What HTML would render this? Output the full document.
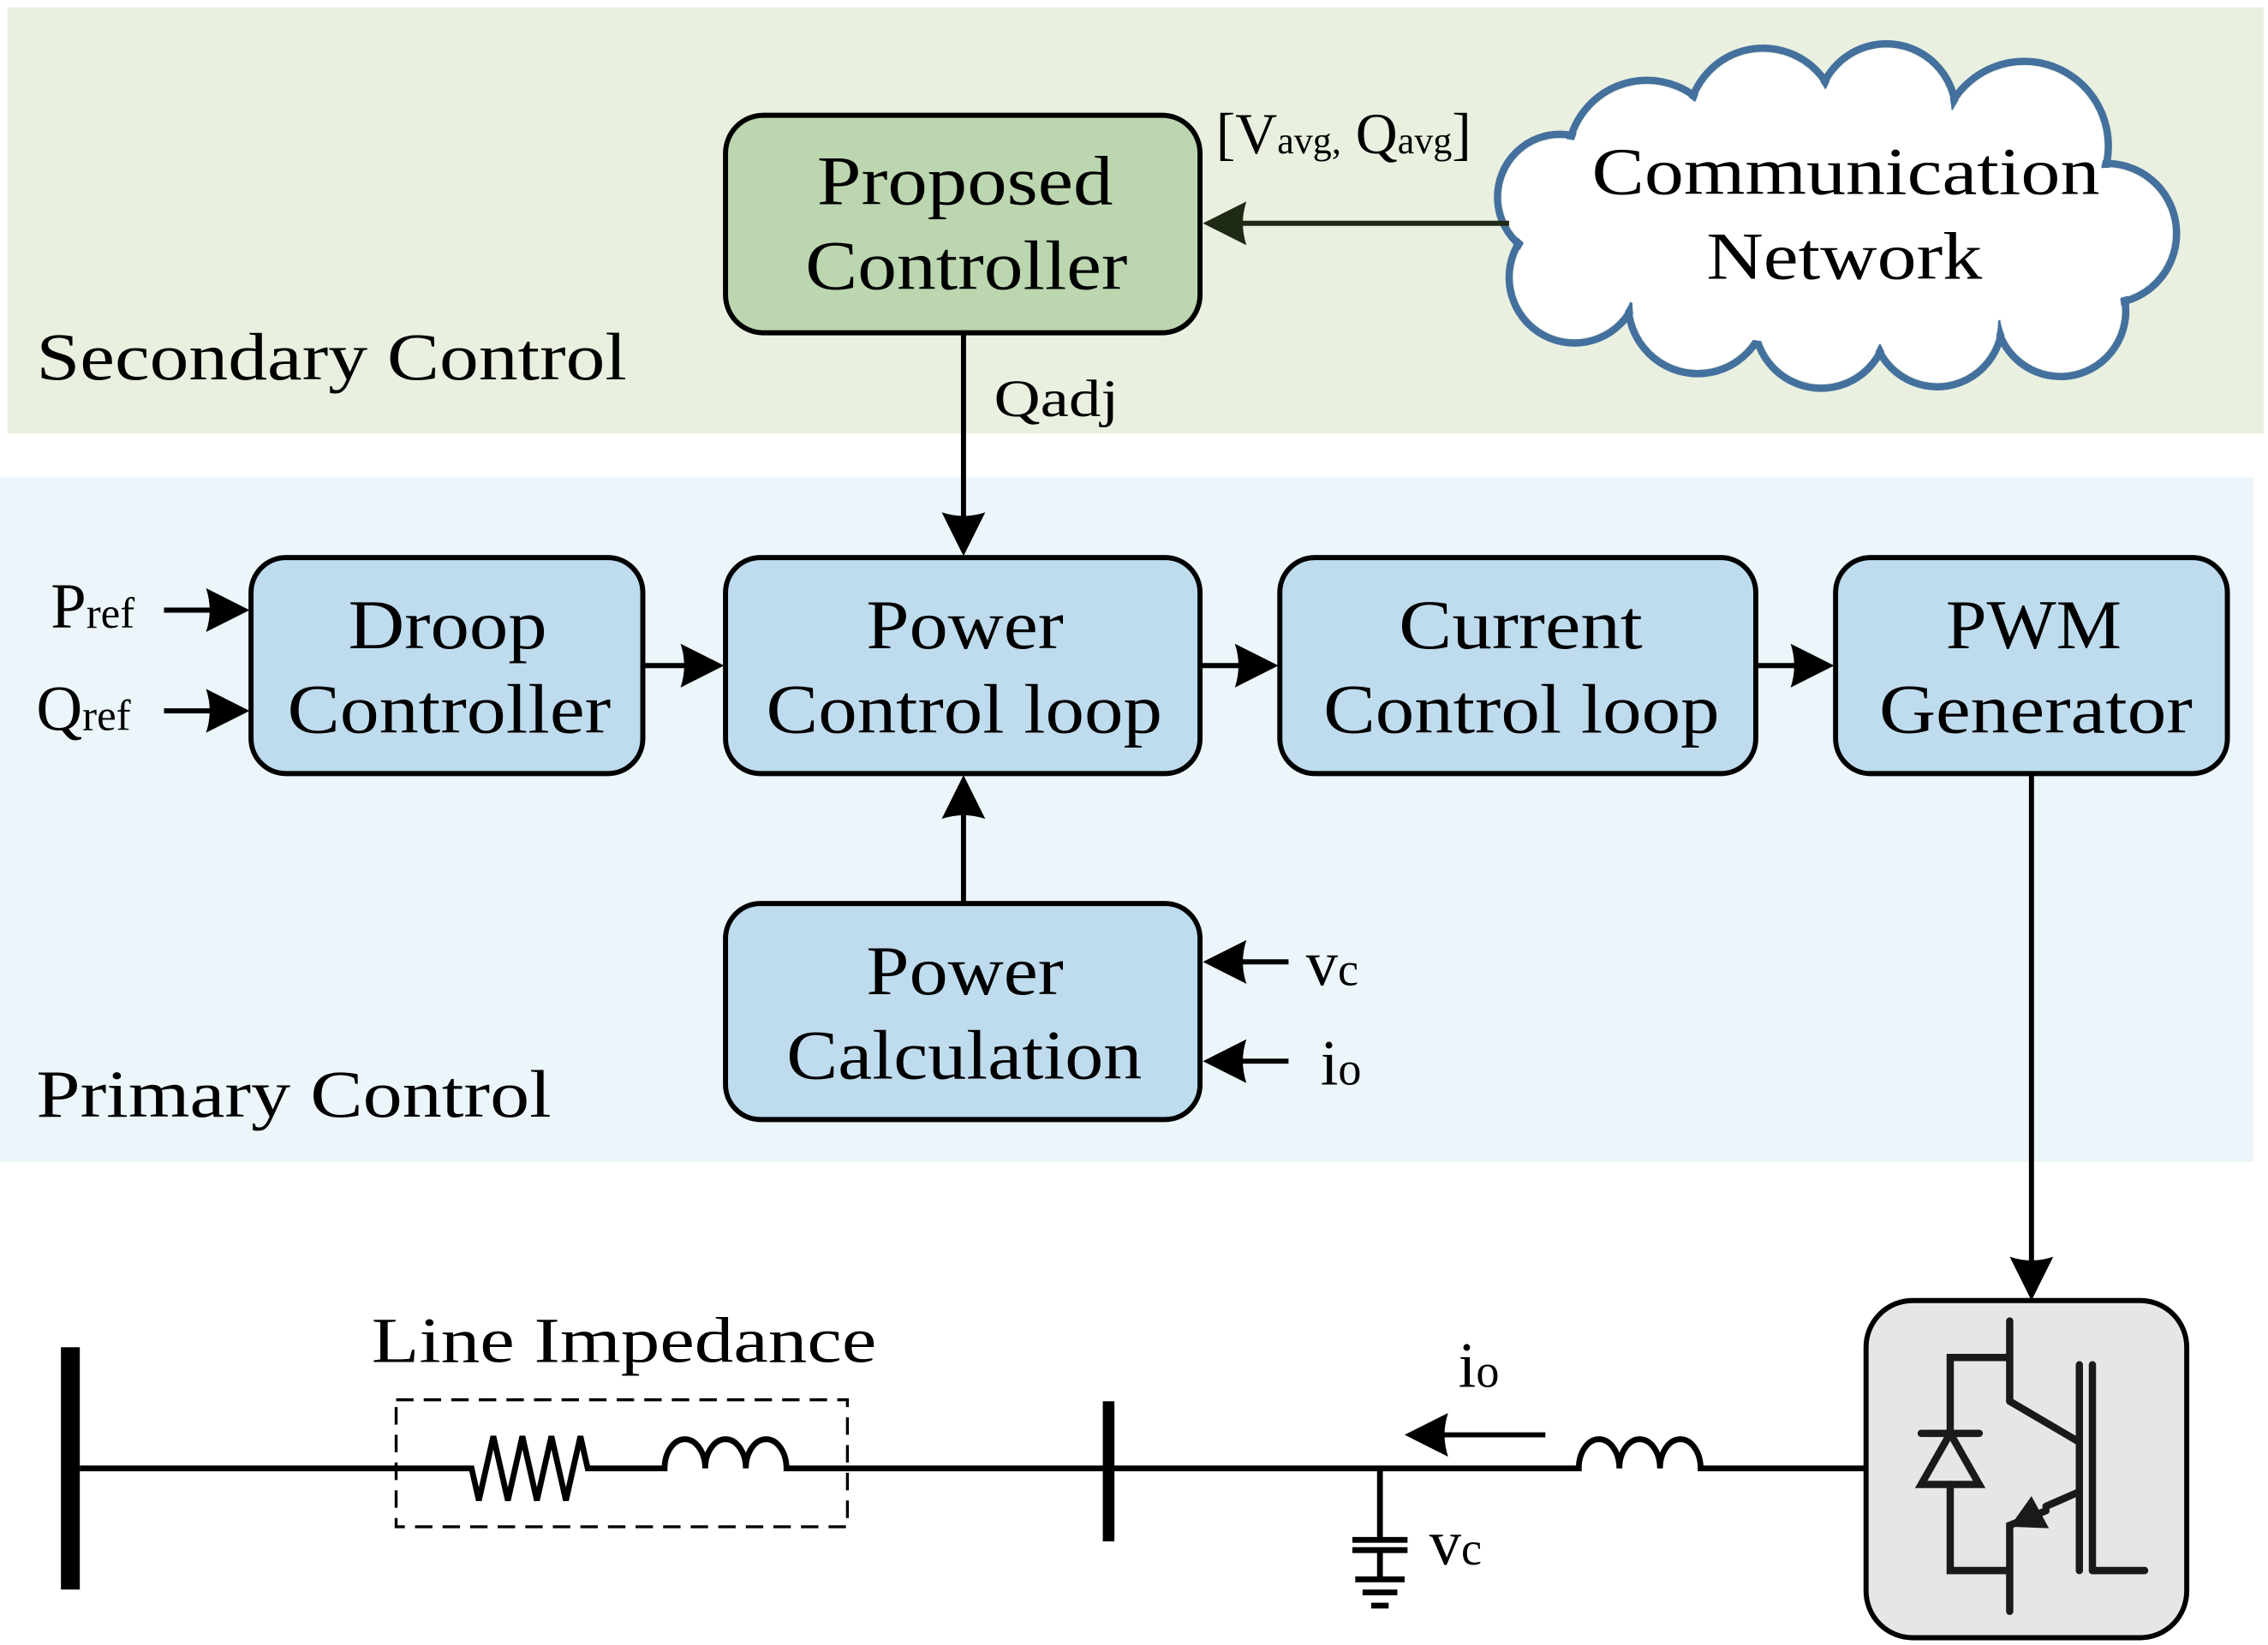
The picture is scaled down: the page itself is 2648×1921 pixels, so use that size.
<!DOCTYPE html>
<html><head><meta charset="utf-8"><style>html,body{margin:0;padding:0;background:#fff}svg{display:block}text{font-family:"Liberation Serif",serif;fill:#000}</style></head>
<body>
<svg width="2648" height="1921" viewBox="0 0 1563 1127" preserveAspectRatio="none" xmlns="http://www.w3.org/2000/svg">
<rect x="5" y="5" width="1555" height="292" fill="#e9f0df"/>
<rect x="0" y="327" width="1553" height="469" fill="#ecf5f9"/>

<!-- cloud -->
<g fill="none" stroke="#44709e" stroke-width="5">
<circle cx="1135" cy="110" r="55"/><circle cx="1215" cy="85" r="52"/><circle cx="1300" cy="78" r="48"/><circle cx="1395" cy="100" r="58"/><circle cx="1452" cy="160" r="48"/><circle cx="1420" cy="213" r="45"/><circle cx="1335" cy="220" r="45"/><circle cx="1255" cy="220" r="46"/><circle cx="1170" cy="208" r="48"/><circle cx="1085" cy="190" r="45"/><circle cx="1075" cy="135" r="43"/>
</g>
<g fill="#fff">
<circle cx="1135" cy="110" r="52"/><circle cx="1215" cy="85" r="49"/><circle cx="1300" cy="78" r="45"/><circle cx="1395" cy="100" r="55"/><circle cx="1452" cy="160" r="45"/><circle cx="1420" cy="213" r="42"/><circle cx="1335" cy="220" r="42"/><circle cx="1255" cy="220" r="43"/><circle cx="1170" cy="208" r="45"/><circle cx="1085" cy="190" r="42"/><circle cx="1075" cy="135" r="40"/><ellipse cx="1265" cy="152" rx="185" ry="85"/>
</g>
<text x="1097" y="133" font-size="46" textLength="350" lengthAdjust="spacingAndGlyphs">Communication</text>
<text x="1176" y="191" font-size="46" textLength="190" lengthAdjust="spacingAndGlyphs">Network</text>

<!-- boxes -->
<g stroke="#000" stroke-width="3.5">
<rect x="500" y="79" width="327" height="149" rx="26" fill="#bcd6b0"/>
<rect x="173" y="382" width="270" height="148" rx="24" fill="#bfdcee"/>
<rect x="500" y="382" width="327" height="148" rx="24" fill="#bfdcee"/>
<rect x="882" y="382" width="328" height="148" rx="24" fill="#bfdcee"/>
<rect x="1265" y="382" width="270" height="148" rx="24" fill="#bfdcee"/>
<rect x="500" y="619" width="327" height="148" rx="24" fill="#bfdcee"/>
<rect x="1286" y="891" width="221" height="231" rx="32" fill="#e6e6e6"/>
</g>
<g font-size="48">
<text x="563" y="140" textLength="204" lengthAdjust="spacingAndGlyphs">Proposed</text><text x="555" y="198" textLength="222" lengthAdjust="spacingAndGlyphs">Controller</text>
<text x="240" y="444" textLength="137" lengthAdjust="spacingAndGlyphs">Droop</text><text x="198" y="502" textLength="223" lengthAdjust="spacingAndGlyphs">Controller</text>
<text x="597" y="444" textLength="136" lengthAdjust="spacingAndGlyphs">Power</text><text x="528" y="502" textLength="273" lengthAdjust="spacingAndGlyphs">Control loop</text>
<text x="964" y="444" textLength="168" lengthAdjust="spacingAndGlyphs">Current</text><text x="912" y="502" textLength="273" lengthAdjust="spacingAndGlyphs">Control loop</text>
<text x="1341" y="444" textLength="121" lengthAdjust="spacingAndGlyphs">PWM</text><text x="1295" y="502" textLength="216" lengthAdjust="spacingAndGlyphs">Generator</text>
<text x="597" y="681" textLength="136" lengthAdjust="spacingAndGlyphs">Power</text><text x="542" y="739" textLength="245" lengthAdjust="spacingAndGlyphs">Calculation</text>
</g>
<text x="25" y="260" font-size="46" textLength="407" lengthAdjust="spacingAndGlyphs">Secondary Control</text>
<text x="25" y="765" font-size="46" textLength="355" lengthAdjust="spacingAndGlyphs">Primary Control</text>
<text x="685" y="285" font-size="36" textLength="86" lengthAdjust="spacingAndGlyphs">Qadj</text>
<text x="838" y="105" font-size="40">[V<tspan font-size="26">avg,</tspan> Q<tspan font-size="26">avg</tspan>]</text>
<text x="35" y="430" font-size="44">P<tspan font-size="30">ref</tspan></text>
<text x="25" y="500" font-size="44">Q<tspan font-size="30">ref</tspan></text>
<text x="900" y="675" font-size="44">v<tspan font-size="32">c</tspan></text>
<text x="910" y="743" font-size="44">i<tspan font-size="32">o</tspan></text>
<text x="1005" y="950" font-size="44">i<tspan font-size="32">o</tspan></text>
<text x="985" y="1072" font-size="44">v<tspan font-size="32">c</tspan></text>
<text x="256" y="933" font-size="44" textLength="348" lengthAdjust="spacingAndGlyphs">Line Impedance</text>

<!-- arrows -->
<g stroke="#000" stroke-width="3.5" fill="none">
<line x1="1040" y1="153" x2="850" y2="153" stroke="#1e2a14"/>
<line x1="664" y1="228" x2="664" y2="358"/>
<line x1="113" y1="418" x2="150" y2="418"/>
<line x1="113" y1="487" x2="150" y2="487"/>
<line x1="443" y1="456" x2="478" y2="456"/>
<line x1="827" y1="456" x2="860" y2="456"/>
<line x1="1210" y1="456" x2="1243" y2="456"/>
<line x1="664" y1="619" x2="664" y2="552"/>
<line x1="888" y1="659" x2="852" y2="659"/>
<line x1="888" y1="727" x2="852" y2="727"/>
<line x1="1400" y1="530" x2="1400" y2="868"/>
<line x1="1065" y1="983" x2="990" y2="983"/>
</g>
<g fill="#000">
<path d="M829,153 l30,-15 q-5,15 0,30 z" fill="#1e2a14"/>
<path d="M664,381 l-15,-30 q15,5 30,0 z"/>
<path d="M172,418 l-30,-15 q5,15 0,30 z"/>
<path d="M172,487 l-30,-15 q5,15 0,30 z"/>
<path d="M499,456 l-30,-15 q5,15 0,30 z"/>
<path d="M881,456 l-30,-15 q5,15 0,30 z"/>
<path d="M1264,456 l-30,-15 q5,15 0,30 z"/>
<path d="M664,531 l-15,30 q15,-5 30,0 z"/>
<path d="M829,659 l30,-15 q-5,15 0,30 z"/>
<path d="M829,727 l30,-15 q-5,15 0,30 z"/>
<path d="M1400,891 l-15,-30 q15,5 30,0 z"/>
<path d="M968,983 l30,-15 q-5,15 0,30 z"/>
</g>

<!-- circuit -->
<rect x="42" y="923" width="13" height="166" fill="#000"/>
<rect x="760" y="960" width="8" height="96" fill="#000"/>
<g stroke="#000" stroke-width="4" fill="none">
<path d="M55,1006 H325 L330,1028 L340,984 L350,1028 L360,984 L370,1028 L380,984 L390,1028 L400,984 L405,1006 H458 a14,20 0 0 1 28,0 a14,20 0 0 1 28,0 a14,20 0 0 1 28,0 H1088 a14,20 0 0 1 28,0 a14,20 0 0 1 28,0 a14,20 0 0 1 28,0 H1286"/>
<line x1="951" y1="1006" x2="951" y2="1055"/>
<line x1="951" y1="1062" x2="951" y2="1082"/>
<line x1="932" y1="1055" x2="970" y2="1055"/>
<line x1="932" y1="1062" x2="970" y2="1062"/>
<line x1="934" y1="1082" x2="968" y2="1082"/>
<line x1="939" y1="1091" x2="963" y2="1091"/>
<line x1="945" y1="1100" x2="957" y2="1100"/>
</g>
<rect x="273" y="959" width="311" height="87" fill="none" stroke="#000" stroke-width="2" stroke-dasharray="12,7"/>

<!-- IGBT -->
<g stroke="#1a1a1a" stroke-width="5" fill="none" stroke-linecap="round">
<line x1="1385" y1="905" x2="1385" y2="960"/>
<polyline points="1385,930 1344,930 1344,982"/>
<line x1="1324" y1="982" x2="1364" y2="982"/>
<path d="M1344,982 L1324,1017 H1364 Z"/>
<polyline points="1344,1017 1344,1076 1385,1076"/>
<polyline points="1385,1104 1385,1045 1410,1035"/>
<polyline points="1385,960 1433,988"/>
<line x1="1433" y1="1022" x2="1410" y2="1032"/>
<line x1="1433" y1="935" x2="1433" y2="1076"/>
<line x1="1442" y1="935" x2="1442" y2="1076"/>
<line x1="1442" y1="1076" x2="1478" y2="1076"/>
</g>
<path d="M1385,1046 L1400,1025 L1412,1047 Z" fill="#1a1a1a"/>
</svg>
</body></html>
